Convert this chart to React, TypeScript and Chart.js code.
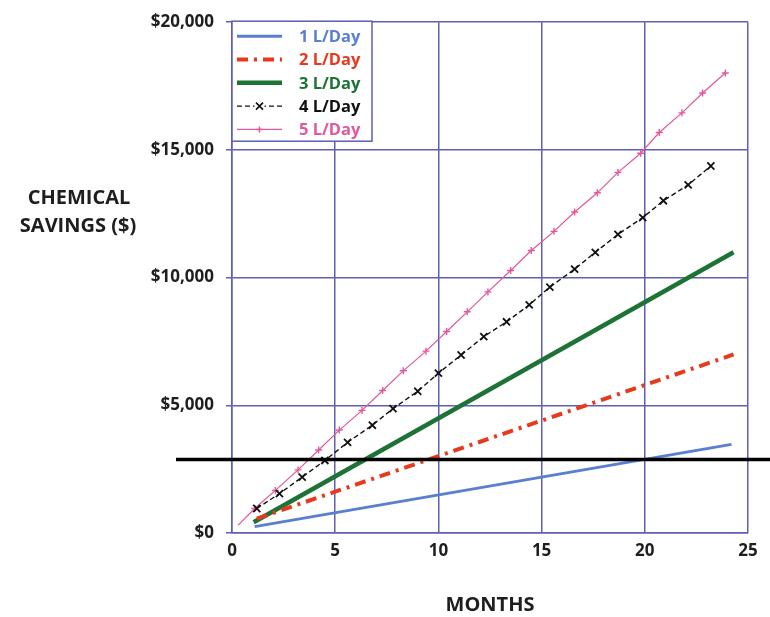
import React, { useEffect, useRef } from "react";
import { Chart, registerables } from "chart.js";

Chart.register(...registerables);

// ---------- data ----------
const seriesLabels = ["1 L/Day", "2 L/Day", "3 L/Day", "4 L/Day", "5 L/Day"];

const months1L = [1.1, 24.2];
const savings1L = [250, 3470];

const months2L = [1.2, 24.3];
const savings2L = [560, 6990];

const months3L = [1.05, 24.3];
const savings3L = [420, 10990];

const months4L = [1.2, 2.3, 3.4, 4.5, 5.6, 6.8, 7.8, 9.0, 10.0, 11.1, 12.2, 13.3, 14.4, 15.4, 16.6, 17.6, 18.7, 19.9, 20.9, 22.1, 23.2];
const savings4L = [960, 1540, 2190, 2840, 3550, 4220, 4870, 5550, 6260, 6970, 7690, 8270, 8930, 9630, 10330, 10990, 11690, 12350, 13010, 13630, 14370];

const months5L = [0.3, 1.1, 2.1, 3.2, 4.2, 5.2, 6.3, 7.3, 8.3, 9.4, 10.4, 11.4, 12.4, 13.5, 14.5, 15.6, 16.6, 17.7, 18.7, 19.8, 20.7, 21.8, 22.8, 23.9];
const savings5L = [310, 960, 1670, 2470, 3250, 4030, 4800, 5580, 6350, 7120, 7890, 8660, 9440, 10280, 11060, 11810, 12570, 13320, 14120, 14870, 15680, 16450, 17230, 18010];

const breakEvenSavings = 2875;

const xTickValues = [0, 5, 10, 15, 20, 25];
const yTickValues = [0, 5000, 10000, 15000, 20000];

const yTitleLines = ["CHEMICAL", "SAVINGS ($)"];
const xTitle = "MONTHS";

// ---------- styles ----------
const FONT = '"Open Sans", "Noto Sans", sans-serif';
const GRID = "#5f5fb4";
const TEXT = "#1e1e1e";
const COLORS = ["#5a7fd0", "#e8391e", "#1d7336", "#111111", "#e2589c"];

const pts = (xs: number[], ys: number[]) => xs.map((x, i) => ({ x, y: ys[i] }));

const overlayPlugin = {
  id: "overlay",
  afterDatasetsDraw(chart: any) {
    const { ctx, chartArea, scales } = chart;
    const y = scales.y.getPixelForValue(breakEvenSavings);
    ctx.save();
    ctx.strokeStyle = "#000";
    ctx.lineWidth = 3.5;
    ctx.setLineDash([]);
    ctx.beginPath();
    ctx.moveTo(chartArea.left - 56, y);
    ctx.lineTo(chart.width, y);
    ctx.stroke();
    ctx.restore();
  },
  afterDraw(chart: any) {
    const { ctx, chartArea } = chart;
    ctx.save();
    // y title
    ctx.fillStyle = TEXT;
    ctx.font = `700 20px ${FONT}`;
    ctx.textAlign = "center";
    ctx.textBaseline = "middle";
    ctx.fillText(yTitleLines[0], 79, 198);
    ctx.fillText(yTitleLines[1], 78, 226);

    // legend box
    const bx = chartArea.left;
    const by = chartArea.top - 1;
    const bw = 140;
    const bh = 120;
    ctx.fillStyle = "#fff";
    ctx.fillRect(bx, by, bw, bh);
    ctx.strokeStyle = GRID;
    ctx.lineWidth = 1.5;
    ctx.strokeRect(bx, by, bw, bh);

    chart.data.datasets.forEach((ds: any, i: number) => {
      const ly = by + 15 + i * 23.3;
      const x0 = bx + 5;
      const x1 = bx + 50;
      ctx.save();
      ctx.strokeStyle = ds.borderColor;
      ctx.lineWidth = ds.borderWidth;
      ctx.setLineDash(ds.borderDash || []);
      ctx.beginPath();
      ctx.moveTo(x0, ly);
      ctx.lineTo(x1, ly);
      ctx.stroke();
      ctx.setLineDash([]);
      const cx = (x0 + x1) / 2;
      if (ds.pointStyle === "crossRot") {
        ctx.lineWidth = 1.6;
        ctx.strokeStyle = ds.borderColor;
        ctx.fillStyle = "#fff";
        ctx.fillRect(cx - 5, ly - 5, 10, 10);
        ctx.beginPath();
        ctx.moveTo(cx - 3.5, ly - 3.5);
        ctx.lineTo(cx + 3.5, ly + 3.5);
        ctx.moveTo(cx + 3.5, ly - 3.5);
        ctx.lineTo(cx - 3.5, ly + 3.5);
        ctx.stroke();
      } else if (ds.pointStyle === "cross") {
        ctx.lineWidth = 1.5;
        ctx.strokeStyle = ds.borderColor;
        ctx.beginPath();
        ctx.moveTo(cx - 3, ly);
        ctx.lineTo(cx + 3, ly);
        ctx.moveTo(cx, ly - 3);
        ctx.lineTo(cx, ly + 3);
        ctx.stroke();
      }
      ctx.fillStyle = ds.borderColor;
      ctx.font = `700 16.5px ${FONT}`;
      ctx.textAlign = "left";
      ctx.textBaseline = "middle";
      ctx.fillText(ds.label, bx + 67, ly + 1);
      ctx.restore();
    });
    ctx.restore();
  },
};

export default function App() {
  const ref = useRef<HTMLCanvasElement | null>(null);

  useEffect(() => {
    if (!ref.current) return;
    const chart = new Chart(ref.current, {
      type: "line",
      data: {
        datasets: [
          {
            label: seriesLabels[0],
            data: pts(months1L, savings1L),
            borderColor: COLORS[0],
            backgroundColor: COLORS[0],
            borderWidth: 3,
            pointRadius: 0,
          },
          {
            label: seriesLabels[1],
            data: pts(months2L, savings2L),
            borderColor: COLORS[1],
            backgroundColor: COLORS[1],
            borderWidth: 4,
            borderDash: [11, 6, 3, 6],
            pointRadius: 0,
          },
          {
            label: seriesLabels[2],
            data: pts(months3L, savings3L),
            borderColor: COLORS[2],
            backgroundColor: COLORS[2],
            borderWidth: 4.5,
            pointRadius: 0,
          },
          {
            label: seriesLabels[3],
            data: pts(months4L, savings4L),
            borderColor: COLORS[3],
            backgroundColor: COLORS[3],
            borderWidth: 1.4,
            borderDash: [5, 3],
            pointStyle: "crossRot",
            pointRadius: 5,
            pointBorderWidth: 1.8,
          },
          {
            label: seriesLabels[4],
            data: pts(months5L, savings5L),
            borderColor: COLORS[4],
            backgroundColor: COLORS[4],
            borderWidth: 1.2,
            pointStyle: "cross",
            pointRadius: (c: any) => (c.dataIndex === 0 ? 0 : 3.5),
            pointBorderWidth: 1.4,
          },
        ] as any,
      },
      options: {
        animation: false,
        responsive: true,
        maintainAspectRatio: false,
        layout: { padding: { top: 18, left: 0, right: 22, bottom: 0 } },
        plugins: {
          legend: { display: false },
          tooltip: { enabled: false },
        },
        elements: { line: { tension: 0 } },
        scales: {
          x: {
            type: "linear",
            min: 0,
            max: 25,
            afterBuildTicks: (s: any) => {
              s.ticks = xTickValues.map((v) => ({ value: v }));
            },
            afterFit: (s: any) => {
              s.height = 84;
            },
            ticks: {
              font: { family: FONT, size: 17, weight: 700 as any },
              color: TEXT,
              padding: 8,
            },
            grid: { color: GRID, lineWidth: 1.5, drawTicks: false },
            border: { color: GRID, width: 1.5 },
            title: {
              display: true,
              text: xTitle,
              color: TEXT,
              font: { family: FONT, size: 20, weight: 700 as any },
              padding: { top: 0, bottom: 0 },
            },
          },
          y: {
            type: "linear",
            min: 0,
            max: 20000,
            afterBuildTicks: (s: any) => {
              s.ticks = yTickValues.map((v) => ({ value: v }));
            },
            afterFit: (s: any) => {
              s.width = 232;
            },
            ticks: {
              font: { family: FONT, size: 17, weight: 700 as any },
              color: TEXT,
              padding: 12,
              callback: (v: any) => "$" + Number(v).toLocaleString("en-US"),
            },
            grid: { color: GRID, lineWidth: 1.5, tickLength: 6 },
            border: { color: GRID, width: 1.5 },
          },
        },
      } as any,
      plugins: [overlayPlugin],
    });
    return () => chart.destroy();
  }, []);

  return (
    <div style={{ position: "fixed", left: 0, top: 0, width: 770, height: 617, background: "#fff" }}>
      <canvas ref={ref} />
    </div>
  );
}
